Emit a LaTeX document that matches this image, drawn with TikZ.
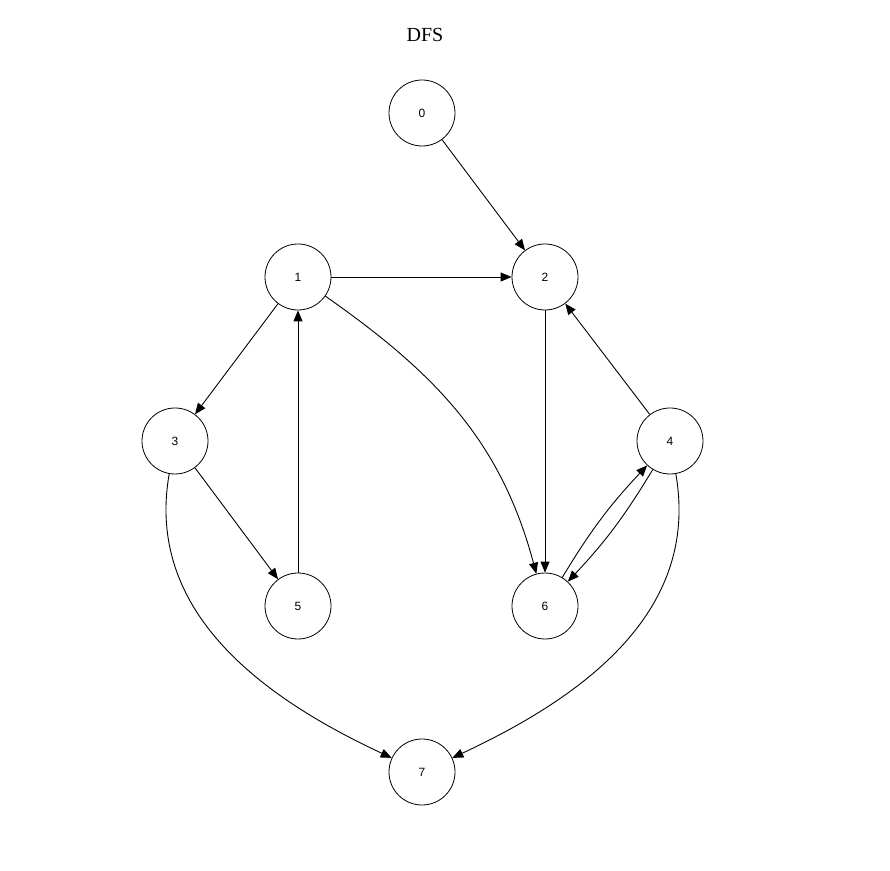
\documentclass[tikz,border=0pt]{standalone}
\usepackage{fontspec}
\newfontfamily\lab{Liberation Sans}
\setmainfont{Liberation Serif}
\usetikzlibrary{arrows.meta}
\begin{document}
\begin{tikzpicture}[x=1pt,y=1pt,
  vtx/.style={circle,draw,line width=0.8pt,minimum size=66pt,inner sep=0pt,font=\lab\fontsize{12}{14}\selectfont},
  edge/.style={draw,-{Triangle[length=11pt,width=9pt]},line width=0.9pt}]
\useasboundingbox (0,0) rectangle (890,870);
\node (title) at (425,835) {\fontsize{20}{24}\selectfont DFS};
\node[vtx] (n0) at (422,757) {0};
\node[vtx] (n1) at (298,593) {1};
\node[vtx] (n2) at (545,593) {2};
\node[vtx] (n3) at (175,429) {3};
\node[vtx] (n4) at (670,429) {4};
\node[vtx] (n5) at (298,264) {5};
\node[vtx] (n6) at (545,264) {6};
\node[vtx] (n7) at (422,98) {7};
\draw[edge] (n0) -- (n2);
\draw[edge] (n1) -- (n2);
\draw[edge] (n1) -- (n3);
\draw[edge] (n1) to[out=-35,in=105] (n6);
\draw[edge] (n2) -- (n6);
\draw[edge] (n4) -- (n2);
\draw[edge] (n3) -- (n5);
\draw[edge] (n5) -- (n1);
\draw[edge] (n4) to[bend left=6] (n6);
\draw[edge] (n6) to[bend left=6] (n4);
\draw[edge] (n3) to[out=-100,in=155] (n7);
\draw[edge] (n4) to[out=-80,in=25] (n7);
\end{tikzpicture}
\end{document}
